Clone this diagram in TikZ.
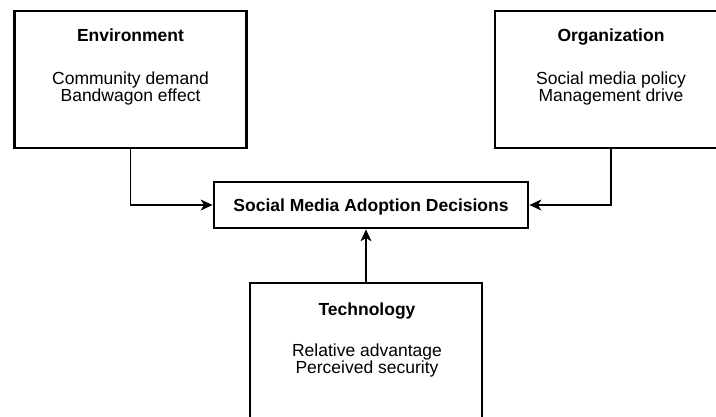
\documentclass[tikz,border=0pt]{standalone}
\usepackage{fontspec}
\setmainfont{Liberation Sans}
\usetikzlibrary{arrows.meta}
\begin{document}
\begin{tikzpicture}[x=1pt,y=-1pt,
  box/.style={draw, line width=2.8pt, rectangle, inner sep=0pt,
    minimum width=232pt, minimum height=137pt},
  hub/.style={draw, line width=2.8pt, rectangle, inner sep=0pt,
    minimum width=314pt, minimum height=46pt},
  title/.style={font=\fontsize{17.5}{17.5}\selectfont\bfseries, anchor=base, inner sep=0pt},
  item/.style={font=\fontsize{17.5}{17.5}\selectfont, anchor=base, inner sep=0pt},
  link/.style={line width=1.2pt, -{Stealth[length=12pt,width=11pt,inset=3.5pt]}}
]
\useasboundingbox (0,0) rectangle (716,416);
\fill[white] (0,0) rectangle (716,416);
\clip (0,0) rectangle (716,416);

% factor boxes
\node[box] (env) at (130.5,79.5) {};
\node[box] (org) at (611,79.5) {};
\node[box] (tech) at (366,351.5) {};
\node[hub] (dec) at (371,205) {};

% box texts
\node[title] (envT) at (130.5,41) {Environment};
\node[item]  (envA) at (130.5,84) {Community demand};
\node[item]  (envB) at (130.5,101) {Bandwagon effect};

\node[title] (orgT) at (611,41) {Organization};
\node[item]  (orgA) at (611,84) {Social media policy};
\node[item]  (orgB) at (611,101) {Management drive};

\node[title] (techT) at (367,315) {Technology};
\node[item]  (techA) at (367,356.7) {Relative advantage};
\node[item]  (techB) at (367,373.5) {Perceived security};

\node[title] (decT) at (371,211.5) {Social Media Adoption Decisions};

% connectors
\draw[link] (env.south) |- (dec.west);
\draw[link] (org.south) |- (dec.east);
\draw[link] (tech.north) -- (tech.north |- dec.south);
\end{tikzpicture}
\end{document}
